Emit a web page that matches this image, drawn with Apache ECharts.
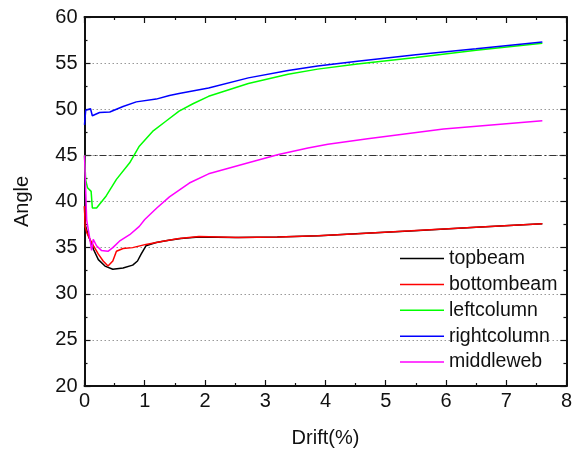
<!DOCTYPE html>
<html>
<head>
<meta charset="utf-8">
<script src="https://cdn.jsdelivr.net/npm/echarts@6/dist/echarts.min.js"></script>
<style>html,body{margin:0;padding:0;background:#fff}#c{width:575px;height:453px}</style>
</head>
<body>
<div id="c"></div>
<script>
var seriesNames = ['topbeam', 'bottombeam', 'leftcolumn', 'rightcolumn', 'middleweb'];
var seriesColors = ['#000000', '#ff0000', '#00ff00', '#0000ff', '#ff00ff'];

var topbeamX = [0, 0.01, 0.06, 0.15, 0.23, 0.34, 0.47, 0.64, 0.80, 0.88, 0.94, 1.02, 1.19, 1.4, 1.6, 1.9, 2.5, 3.2, 3.9, 4.5, 5.4, 6.5, 7.6];
var topbeamY = [39.5, 37.5, 36.4, 34.8, 33.7, 33.0, 32.65, 32.8, 33.1, 33.55, 34.3, 35.2, 35.55, 35.8, 36.0, 36.15, 36.1, 36.15, 36.3, 36.5, 36.8, 37.2, 37.6];

var bottombeamX = [0, 0.01, 0.04, 0.09, 0.15, 0.23, 0.31, 0.39, 0.42, 0.47, 0.53, 0.64, 0.8, 1.02, 1.3, 1.57, 1.9, 2.56, 3.22, 3.87, 4.53, 5.35, 6.5, 7.6];
var bottombeamY = [39.5, 37.3, 36.6, 35.9, 35.2, 34.3, 33.55, 33.0, 32.8, 33.55, 34.6, 34.9, 35.0, 35.35, 35.7, 36.0, 36.2, 36.1, 36.15, 36.3, 36.5, 36.8, 37.2, 37.6];

var leftcolumnX = [0, 0.02, 0.05, 0.11, 0.13, 0.2, 0.36, 0.53, 0.75, 0.91, 1.13, 1.35, 1.57, 1.8, 2.06, 2.72, 3.38, 3.87, 4.53, 5.5, 6.5, 7.6];
var leftcolumnY = [45, 42.3, 41.5, 41.1, 39.3, 39.3, 40.6, 42.4, 44.2, 46.0, 47.6, 48.7, 49.8, 50.6, 51.4, 52.8, 53.8, 54.35, 54.9, 55.6, 56.4, 57.15];

var rightcolumnX = [0, 0.02, 0.1, 0.13, 0.25, 0.42, 0.64, 0.86, 1.19, 1.41, 1.57, 2.06, 2.72, 3.38, 3.87, 4.53, 5.5, 6.5, 7.6];
var rightcolumnY = [48.3, 49.9, 50.05, 49.3, 49.65, 49.7, 50.3, 50.8, 51.1, 51.5, 51.7, 52.3, 53.4, 54.2, 54.7, 55.2, 55.9, 56.55, 57.3];

var middlewebX = [0, 0.036, 0.09, 0.118, 0.145, 0.2, 0.28, 0.39, 0.47, 0.58, 0.75, 0.91, 1.0, 1.2, 1.41, 1.74, 2.06, 2.72, 3.22, 3.71, 4.04, 4.7, 5.96, 7.6];
var middlewebY = [45, 38.0, 35.9, 34.7, 35.9, 35.2, 34.7, 34.6, 35.0, 35.7, 36.4, 37.3, 38.05, 39.3, 40.5, 42.0, 43.0, 44.2, 45.1, 45.8, 46.2, 46.8, 47.85, 48.75];

var xTicks = [0, 1, 2, 3, 4, 5, 6, 7, 8];
var yTicks = [20, 25, 30, 35, 40, 45, 50, 55, 60];
var refAngle = 45;

function pairs(xs, ys) { return xs.map(function (x, i) { return [x, ys[i]]; }); }
var allX = [topbeamX, bottombeamX, leftcolumnX, rightcolumnX, middlewebX];
var allY = [topbeamY, bottombeamY, leftcolumnY, rightcolumnY, middlewebY];

var FONT = '"Liberation Sans", Arial, sans-serif';
var axisCol = '#111';
var FS = 20;
var LFS = 19.5;

var series = seriesNames.map(function (n, i) {
  return {
    name: n, type: 'line', data: pairs(allX[i], allY[i]),
    symbol: 'none', showSymbol: false,
    lineStyle: { color: seriesColors[i], width: 1.5 },
    itemStyle: { color: seriesColors[i] },
    z: 3 + i
  };
});
series.push({
  name: 'ref', type: 'line', data: [], symbol: 'none',
  markLine: {
    silent: true, symbol: 'none', label: { show: false },
    lineStyle: { color: '#333', width: 1, type: [7, 3, 2, 3] },
    data: [{ yAxis: refAngle }]
  }
});

var chart = echarts.init(document.getElementById('c'), null, { renderer: 'canvas' });
chart.setOption({
  animation: false,
  backgroundColor: '#fff',
  grid: { left: 84.5, right: 4, top: 17, bottom: 66, containLabel: false },
  legend: {
    data: seriesNames, orient: 'vertical', left: 395, top: 243.5,
    itemWidth: 44, itemHeight: 14, itemGap: 5.9, padding: 5,
    textStyle: { fontFamily: FONT, fontSize: LFS, color: '#111' },
    icon: 'path://M0,6.25 L44,6.25 L44,7.75 L0,7.75 Z'
  },
  xAxis: [{
    type: 'value', min: xTicks[0], max: xTicks[xTicks.length - 1], interval: 1,
    name: 'Drift(%)', nameLocation: 'middle', nameGap: 42,
    nameTextStyle: { fontFamily: FONT, fontSize: FS, color: '#111' },
    axisLine: { show: true, onZero: false, lineStyle: { color: axisCol, width: 2 } },
    axisTick: { show: true, inside: true, length: 6, lineStyle: { color: axisCol, width: 1.2 } },
    minorTick: { show: true, splitNumber: 2, length: 3, lineStyle: { color: axisCol, width: 1.2 } },
    axisLabel: { fontFamily: FONT, fontSize: FS, color: '#111', margin: 5 },
    splitLine: { show: false }
  }, {
    type: 'value', position: 'top', min: 0, max: 8, interval: 1,
    axisLine: { show: true, onZero: false, lineStyle: { color: axisCol, width: 2 } },
    axisTick: { show: true, inside: true, length: 6, lineStyle: { color: axisCol, width: 1.2 } },
    minorTick: { show: true, splitNumber: 2, length: 3, lineStyle: { color: axisCol, width: 1.2 } },
    axisLabel: { show: false }, splitLine: { show: false }
  }],
  yAxis: [{
    type: 'value', min: yTicks[0], max: yTicks[yTicks.length - 1], interval: 5,
    name: 'Angle', nameLocation: 'middle', nameGap: 52, nameRotate: 90,
    nameTextStyle: { fontFamily: FONT, fontSize: FS, color: '#111' },
    axisLine: { show: true, onZero: false, lineStyle: { color: axisCol, width: 2 } },
    axisTick: { show: true, inside: true, length: 6, lineStyle: { color: axisCol, width: 1.2 } },
    minorTick: { show: true, splitNumber: 2, length: 3, lineStyle: { color: axisCol, width: 1.2 } },
    axisLabel: { fontFamily: FONT, fontSize: FS, color: '#111', margin: 7 },
    splitLine: { show: true, lineStyle: { color: '#999', width: 1, type: [1.5, 2.5] } }
  }, {
    type: 'value', position: 'right', min: 20, max: 60, interval: 5,
    axisLine: { show: true, onZero: false, lineStyle: { color: axisCol, width: 2 } },
    axisTick: { show: true, inside: true, length: 6, lineStyle: { color: axisCol, width: 1.2 } },
    minorTick: { show: true, splitNumber: 2, length: 3, lineStyle: { color: axisCol, width: 1.2 } },
    axisLabel: { show: false }, splitLine: { show: false }
  }],
  series: series
});
</script>
</body>
</html>
